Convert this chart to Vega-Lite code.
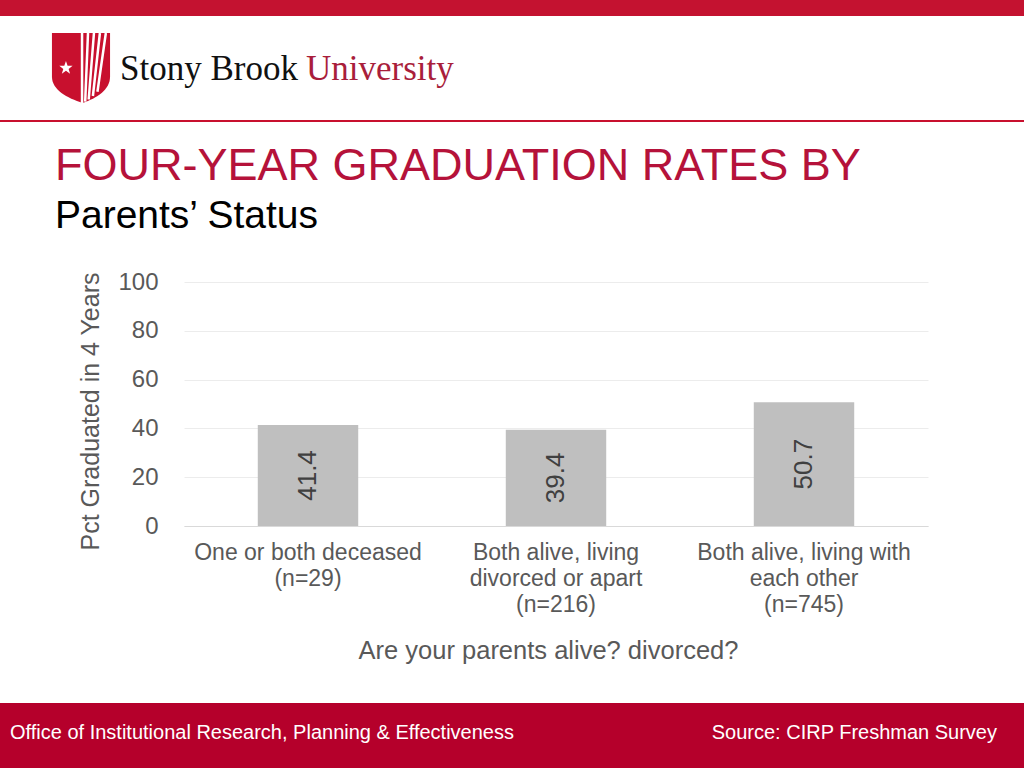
{
  "$schema": "https://vega.github.io/schema/vega-lite/v6.json",
  "padding": 0,
  "background": "#ffffff",
  "spacing": 0,
  "config": {
    "view": {"stroke": null},
    "font": "Liberation Sans",
    "concat": {"spacing": 0}
  },
  "vconcat": [
    {
      "width": 1024, "height": 16,
      "view": {"fill": "#c41230", "stroke": null},
      "data": {"values": [{}]},
      "mark": {"type": "text", "text": "", "fontSize": 0},
      "encoding": {}
    },
    {
      "width": 1024, "height": 104,
      "layer": [
        {
          "data": {"values": [{"el": "shield"}]},
          "mark": {"type": "point", "filled": true, "fill": "#c8102e", "opacity": 1, "strokeWidth": 0, "size": 4900,
            "shape": "M-0.83,-1 L0.83,-1 L0.83,0.25 C0.83,0.62 0.45,0.86 0.05,1 C-0.4,0.86 -0.83,0.62 -0.83,0.25 Z"},
          "encoding": {"x": {"field": "el", "type": "nominal", "axis": null, "scale": {"type": "point", "domain": ["shield", "brand"], "range": [81, 302], "padding": 0}}}
        },
        {
          "data": {"values": [{"el": "shield"}]},
          "mark": {"type": "point", "filled": false, "stroke": "#ffffff", "opacity": 1, "strokeWidth": 2.5, "size": 4900,
            "shape": "M0.03,-1 L0.03,1 M0.2,-1 L0.12,0.96 M0.37,-1 L0.22,0.9 M0.54,-1 L0.34,0.8 M0.71,-1 L0.47,0.68"},
          "encoding": {"x": {"field": "el", "type": "nominal", "axis": null}}
        },
        {
          "data": {"values": [{"el": "shield"}]},
          "mark": {"type": "point", "filled": true, "fill": "#ffffff", "opacity": 1, "strokeWidth": 0, "size": 4900,
            "shape": "M-0.43,-0.2 L-0.383,-0.065 L-0.24,-0.062 L-0.354,0.025 L-0.312,0.162 L-0.43,0.08 L-0.548,0.162 L-0.506,0.025 L-0.62,-0.062 L-0.477,-0.065 Z"},
          "encoding": {"x": {"field": "el", "type": "nominal", "axis": null}}
        },
        {
          "data": {"values": [{"el": "brand", "word": "Stony Brook"}]},
          "mark": {"type": "text", "font": "Liberation Serif", "fontSize": 35, "color": "#111111", "align": "right", "baseline": "alphabetic", "dx": -4, "dy": 12},
          "encoding": {"x": {"field": "el", "type": "nominal", "axis": null}, "text": {"field": "word"}}
        },
        {
          "data": {"values": [{"el": "brand", "word": "University"}]},
          "mark": {"type": "text", "font": "Liberation Serif", "fontSize": 35, "color": "#a91e3b", "align": "left", "baseline": "alphabetic", "dx": 4, "dy": 12},
          "encoding": {"x": {"field": "el", "type": "nominal", "axis": null}, "text": {"field": "word"}}
        }
      ]
    },
    {
      "width": 1024, "height": 2,
      "view": {"fill": "#c8102e", "stroke": null},
      "data": {"values": [{}]},
      "mark": {"type": "text", "text": "", "fontSize": 0},
      "encoding": {}
    },
    {
      "width": 1024, "height": 22,
      "data": {"values": [{}]},
      "mark": {"type": "text", "text": "", "fontSize": 0},
      "encoding": {}
    },
    {
      "spacing": 0,
      "hconcat": [
        {
          "width": 54, "height": 421,
          "data": {"values": [{}]},
          "mark": {"type": "text", "text": "", "fontSize": 0},
          "encoding": {}
        },
        {
          "width": 744, "height": 244,
          "title": {
            "text": "FOUR-YEAR GRADUATION RATES BY",
            "subtitle": "Parents’ Status",
            "anchor": "start", "frame": "bounds",
            "font": "Liberation Sans", "fontSize": 45, "fontWeight": "normal", "color": "#b5123a",
            "subtitleFont": "Liberation Sans", "subtitleFontSize": 39, "subtitleColor": "#000000",
            "subtitlePadding": 8, "offset": 34, "dx": -24
          },
          "data": {"values": [
            {"status": "One or both deceased|(n=29)", "pct": 41.4},
            {"status": "Both alive, living|divorced or apart|(n=216)", "pct": 39.4},
            {"status": "Both alive, living with|each other|(n=745)", "pct": 50.7}
          ]},
          "encoding": {
            "x": {
              "field": "status", "type": "nominal", "sort": null,
              "scale": {"paddingInner": 0, "paddingOuter": 0},
              "axis": {
                "title": "Are your parents alive? divorced?",
                "labelAngle": 0, "labelExpr": "split(datum.value, '|')",
                "labelFont": "Liberation Sans", "labelFontSize": 23, "labelColor": "#595959",
                "labelLineHeight": 26, "labelPadding": 15, "labelLimit": 400,
                "ticks": false, "domainColor": "#d9d9d9", "domainWidth": 1,
                "titleFont": "Liberation Sans", "titleFontSize": 25.5, "titleFontWeight": "normal", "titleColor": "#595959",
                "titlePadding": 22, "titleX": 364
              }
            }
          },
          "layer": [
            {
              "mark": {"type": "bar", "width": {"band": 0.405}, "color": "#bfbfbf"},
              "encoding": {
                "y": {
                  "field": "pct", "type": "quantitative",
                  "scale": {"domain": [0, 100]},
                  "axis": {
                    "title": "Pct Graduated in 4 Years",
                    "values": [0, 20, 40, 60, 80, 100],
                    "gridColor": "#ececec", "domain": false, "ticks": false,
                    "labelFont": "Liberation Sans", "labelFontSize": 24, "labelColor": "#595959", "labelPadding": 26,
                    "titleFont": "Liberation Sans", "titleFontSize": 25, "titleFontWeight": "normal", "titleColor": "#595959",
                    "titlePadding": 14, "titleY": 129
                  }
                }
              }
            },
            {
              "mark": {"type": "text", "angle": 270, "fontSize": 26, "color": "#404040", "font": "Liberation Sans", "align": "center", "baseline": "middle"},
              "encoding": {
                "y": {"field": "pct", "type": "quantitative", "scale": {"domain": [0, 200]}, "axis": null},
                "text": {"field": "pct", "type": "quantitative", "format": ".1f"}
              }
            }
          ],
          "resolve": {"scale": {"y": "independent"}}
        }
      ]
    },
    {
      "width": 1024, "height": 65,
      "view": {"fill": "#b5002b", "stroke": null},
      "layer": [
        {
          "data": {"values": [{"side": "left", "note": "Office of Institutional Research, Planning & Effectiveness"}]},
          "mark": {"type": "text", "font": "Liberation Sans", "fontSize": 20, "color": "#ffffff", "align": "left", "baseline": "alphabetic", "dy": 3},
          "encoding": {
            "x": {"field": "side", "type": "nominal", "axis": null, "scale": {"type": "point", "domain": ["left", "right"], "range": [10, 997], "padding": 0}},
            "text": {"field": "note"}
          }
        },
        {
          "data": {"values": [{"side": "right", "note": "Source: CIRP Freshman Survey"}]},
          "mark": {"type": "text", "font": "Liberation Sans", "fontSize": 20, "color": "#ffffff", "align": "right", "baseline": "alphabetic", "dy": 3},
          "encoding": {
            "x": {"field": "side", "type": "nominal", "axis": null},
            "text": {"field": "note"}
          }
        }
      ]
    }
  ]
}
